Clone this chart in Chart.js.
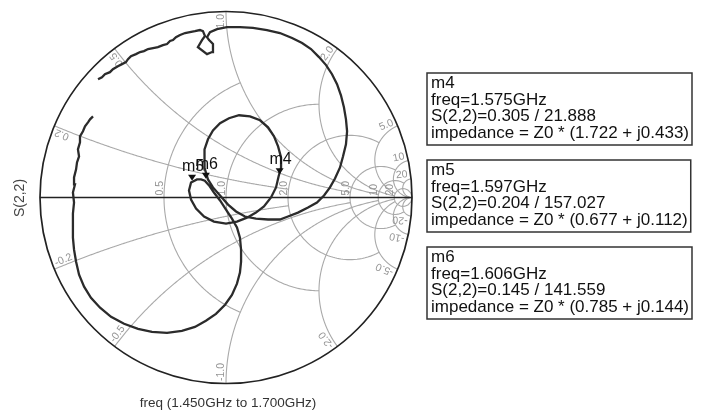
<!DOCTYPE html>
<html>
<head>
<meta charset="utf-8">
<script src="https://cdn.jsdelivr.net/npm/chart.js@4.4.1/dist/chart.umd.min.js"></script>
<style>
html,body{margin:0;padding:0;background:#fff;}
</style>
</head>
<body>
<canvas id="c" width="706" height="415"></canvas>
<script>
// S(2,2) reflection coefficient, 1.450GHz -> 1.700GHz (real / imag)
const s22Re = [-0.688,-0.667,-0.651,-0.624,-0.608,-0.581,-0.559,-0.538,-0.527,-0.511,-0.484,-0.462,-0.441,-0.419,-0.392,-0.366,-0.339,-0.317,-0.301,-0.285,-0.269,-0.247,-0.220,-0.194,-0.167,-0.140,-0.124,
  -0.113,-0.129,-0.151,-0.102,-0.075,-0.070,-0.091,-0.102,-0.086,-0.048,0.005,0.075,
  0.145,0.220,0.290,0.355,0.409,0.457,0.500,0.538,0.570,0.597,0.618,0.634,0.645,0.651,0.645,0.629,0.613,0.586,0.559,0.527,0.489,0.441,0.387,0.333,0.290,0.226,0.161,0.102,0.054,0.011,-0.032,-0.070,-0.097,
  -0.113,-0.118,-0.113,-0.097,-0.070,-0.032,0.016,0.070,0.129,0.183,0.226,0.258,0.280,0.296,0.296,0.283,
  0.269,0.242,0.204,0.161,0.113,0.059,0.000,-0.065,-0.118,-0.161,-0.188,-0.199,-0.188,-0.156,-0.134,-0.114,
  -0.091,-0.065,-0.032,0.000,0.032,0.059,0.075,0.081,0.081,0.075,0.059,0.032,-0.005,-0.054,-0.108,-0.167,-0.237,-0.317,-0.398,-0.473,-0.548,-0.618,-0.677,-0.726,-0.763,-0.790,-0.806,-0.817,-0.823,-0.823,-0.823,
  -0.817,-0.823,-0.812,-0.817,-0.806,-0.801,-0.790,-0.796,-0.785,-0.785,-0.769,-0.758,-0.742,-0.731,-0.715];
const s22Im = [0.634,0.645,0.661,0.672,0.688,0.704,0.715,0.726,0.742,0.758,0.769,0.780,0.785,0.796,0.801,0.806,0.817,0.823,0.839,0.844,0.860,0.871,0.882,0.887,0.892,0.898,0.892,
  0.866,0.844,0.806,0.769,0.780,0.823,0.844,0.860,0.887,0.903,0.914,0.914,
  0.909,0.898,0.882,0.855,0.828,0.796,0.753,0.710,0.661,0.608,0.548,0.484,0.419,0.355,0.285,0.220,0.161,0.102,0.054,0.011,-0.027,-0.054,-0.081,-0.102,-0.118,-0.118,-0.113,-0.102,-0.075,-0.038,0.011,0.054,0.097,
  0.151,0.204,0.258,0.312,0.360,0.398,0.425,0.441,0.435,0.414,0.376,0.328,0.274,0.215,0.161,0.114,
  0.054,0.000,-0.048,-0.081,-0.108,-0.129,-0.140,-0.129,-0.102,-0.059,-0.011,0.038,0.080,0.097,0.097,0.090,
  0.065,0.027,-0.016,-0.065,-0.113,-0.161,-0.215,-0.280,-0.344,-0.403,-0.462,-0.522,-0.575,-0.624,-0.661,-0.694,-0.715,-0.726,-0.720,-0.704,-0.677,-0.640,-0.591,-0.538,-0.478,-0.414,-0.344,-0.280,-0.215,-0.151,-0.086,
  -0.027,0.027,0.070,0.108,0.151,0.188,0.220,0.258,0.296,0.328,0.355,0.382,0.403,0.419,0.435];

// markers
const markerNames = ['m4', 'm5', 'm6'];
const markerFreq = ['1.575GHz', '1.597GHz', '1.606GHz'];
const markerMag = [0.305, 0.204, 0.145];
const markerAng = [21.888, 157.027, 141.559];
const markerZ = ['(1.722 + j0.433)', '(0.677 + j0.112)', '(0.785 + j0.144)'];

// smith chart grid
const rCircles = [0.5, 1, 2, 5, 10, 20];
const rCircleXMax = [1, 2, 5, 10, 20, Infinity];
const rLabels = ['0.5', '1.0', '2.0', '5.0', '10', '20'];
const xArcs = [0.2, 0.5, 1, 2, 5, 10, 20];
const xArcRMax = [2, 5, 10, 20, 20, Infinity, Infinity];
const xLabels = ['0.2', '0.5', '1.0', '2.0', '5.0', '10', '20'];

const FONT = '"Liberation Sans", Arial, sans-serif';

function gam(r, x) {
  const d = (r + 1) * (r + 1) + x * x;
  return [(r * r - 1 + x * x) / d, 2 * x / d];
}

const smithGrid = {
  id: 'smithGrid',
  beforeDatasetsDraw(chart) {
    const ctx = chart.ctx, xs = chart.scales.x, ys = chart.scales.y;
    const P = g => [xs.getPixelForValue(g[0]), ys.getPixelForValue(g[1])];
    const N = 240;
    ctx.save();
    ctx.strokeStyle = '#a9a9a9';
    ctx.lineWidth = 1.1;
    rCircles.forEach((r, i) => {
      const um = Math.atan(rCircleXMax[i]) * 0.99999;
      ctx.beginPath();
      for (let k = 0; k <= N; k++) {
        const p = P(gam(r, Math.tan(-um + 2 * um * k / N)));
        k ? ctx.lineTo(p[0], p[1]) : ctx.moveTo(p[0], p[1]);
      }
      ctx.stroke();
    });
    xArcs.forEach((xv, i) => {
      const um = Math.atan(xArcRMax[i]) * 0.99999;
      [1, -1].forEach(s => {
        ctx.beginPath();
        for (let k = 0; k <= N; k++) {
          const p = P(gam(Math.tan(um * k / N), s * xv));
          k ? ctx.lineTo(p[0], p[1]) : ctx.moveTo(p[0], p[1]);
        }
        ctx.stroke();
      });
    });

    // labels
    const c = P([0, 0]);
    const R = xs.getPixelForValue(1) - c[0];
    ctx.fillStyle = '#959595';
    ctx.font = '10.5px ' + FONT;
    ctx.textBaseline = 'middle';
    rCircles.forEach((r, i) => {
      const p = P(gam(r, 0));
      ctx.save();
      ctx.translate(p[0] - 4, c[1] - 2);
      ctx.rotate(-Math.PI / 2);
      ctx.textAlign = 'left';
      ctx.fillText(rLabels[i], 0, 0);
      ctx.restore();
    });
    xArcs.forEach((xv, i) => {
      [1, -1].forEach(s => {
        const g = gam(0, s * xv);
        const phi = Math.atan2(g[1], g[0]);
        const p = P(g);
        const ur = [(p[0] - c[0]) / R, (p[1] - c[1]) / R];
        let d, t;
        if (s > 0) { d = ur; t = [-Math.sin(phi), -Math.cos(phi)]; }
        else { d = [-ur[0], -ur[1]]; t = [Math.sin(phi), Math.cos(phi)]; }
        ctx.save();
        ctx.translate(p[0] - ur[0] * 3 + t[0] * 5, p[1] - ur[1] * 3 + t[1] * 5);
        ctx.rotate(Math.atan2(d[1], d[0]));
        ctx.textAlign = s > 0 ? 'right' : 'left';
        ctx.fillText((s < 0 ? '-' : '') + xLabels[i], 0, 0);
        ctx.restore();
      });
    });

    // outer circle + real axis
    ctx.strokeStyle = '#222';
    ctx.lineWidth = 1.7;
    ctx.beginPath();
    ctx.arc(c[0], c[1], R, 0, Math.PI * 2);
    ctx.stroke();
    ctx.lineWidth = 1.5;
    ctx.beginPath();
    ctx.moveTo(P([-1, 0])[0], c[1]);
    ctx.lineTo(P([1, 0])[0], c[1]);
    ctx.stroke();
    ctx.restore();
  }
};

const markerDraw = {
  id: 'markerDraw',
  afterDatasetsDraw(chart) {
    const ctx = chart.ctx, xs = chart.scales.x, ys = chart.scales.y;
    ctx.save();
    ctx.fillStyle = '#111';
    ctx.font = '16px ' + FONT;
    ctx.textAlign = 'center';
    ctx.textBaseline = 'alphabetic';
    markerNames.forEach((m, i) => {
      const a = markerAng[i] * Math.PI / 180;
      const px = xs.getPixelForValue(markerMag[i] * Math.cos(a));
      const py = ys.getPixelForValue(markerMag[i] * Math.sin(a));
      ctx.beginPath();
      ctx.moveTo(px + 1, py - 2);
      ctx.lineTo(px - 3, py - 8);
      ctx.lineTo(px + 5, py - 8);
      ctx.closePath();
      ctx.fill();
      ctx.fillText(m, px + 2, py - 12);
    });
    ctx.restore();
  }
};

const annot = {
  id: 'annot',
  afterDraw(chart) {
    const ctx = chart.ctx;
    ctx.save();
    // axis titles
    ctx.fillStyle = '#444';
    ctx.font = '14px ' + FONT;
    ctx.textAlign = 'center';
    ctx.textBaseline = 'middle';
    ctx.save();
    ctx.translate(20, 198);
    ctx.rotate(-Math.PI / 2);
    ctx.fillText('S(2,2)', 0, 0);
    ctx.restore();
    ctx.fillStyle = '#333';
    ctx.font = '13.5px ' + FONT;
    ctx.fillText('freq (1.450GHz to 1.700GHz)', 228, 403);

    // marker readout boxes
    const tops = [73, 160, 247];
    ctx.font = '17px ' + FONT;
    ctx.textAlign = 'left';
    ctx.textBaseline = 'alphabetic';
    markerNames.forEach((m, i) => {
      const lines = [m, 'freq=' + markerFreq[i],
        'S(2,2)=' + markerMag[i].toFixed(3) + ' / ' + markerAng[i].toFixed(3),
        'impedance = Z0 * ' + markerZ[i]];
      const w = Math.max(...lines.map(l => ctx.measureText(l).width)) + 7;
      ctx.strokeStyle = '#333';
      ctx.lineWidth = 1.5;
      ctx.strokeRect(427, tops[i], w, 72);
      ctx.fillStyle = '#111';
      lines.forEach((l, k) => ctx.fillText(l, 431, tops[i] + 15 + k * 16.6));
    });
    ctx.restore();
  }
};

new Chart(document.getElementById('c').getContext('2d'), {
  type: 'scatter',
  data: {
    datasets: [{
      label: 'S(2,2)',
      data: s22Re.map((v, i) => ({x: v, y: s22Im[i]})),
      showLine: true,
      borderColor: '#2b2b2b',
      borderWidth: 2.3,
      pointRadius: 0,
      tension: 0
    }]
  },
  options: {
    responsive: false,
    animation: false,
    layout: {padding: {left: 40, right: 294, top: 11, bottom: 31}},
    scales: {
      x: {type: 'linear', min: -1, max: 1, display: false},
      y: {type: 'linear', min: -1, max: 1, display: false}
    },
    plugins: {legend: {display: false}, tooltip: {enabled: false}}
  },
  plugins: [smithGrid, markerDraw, annot]
});
</script>
</body>
</html>
